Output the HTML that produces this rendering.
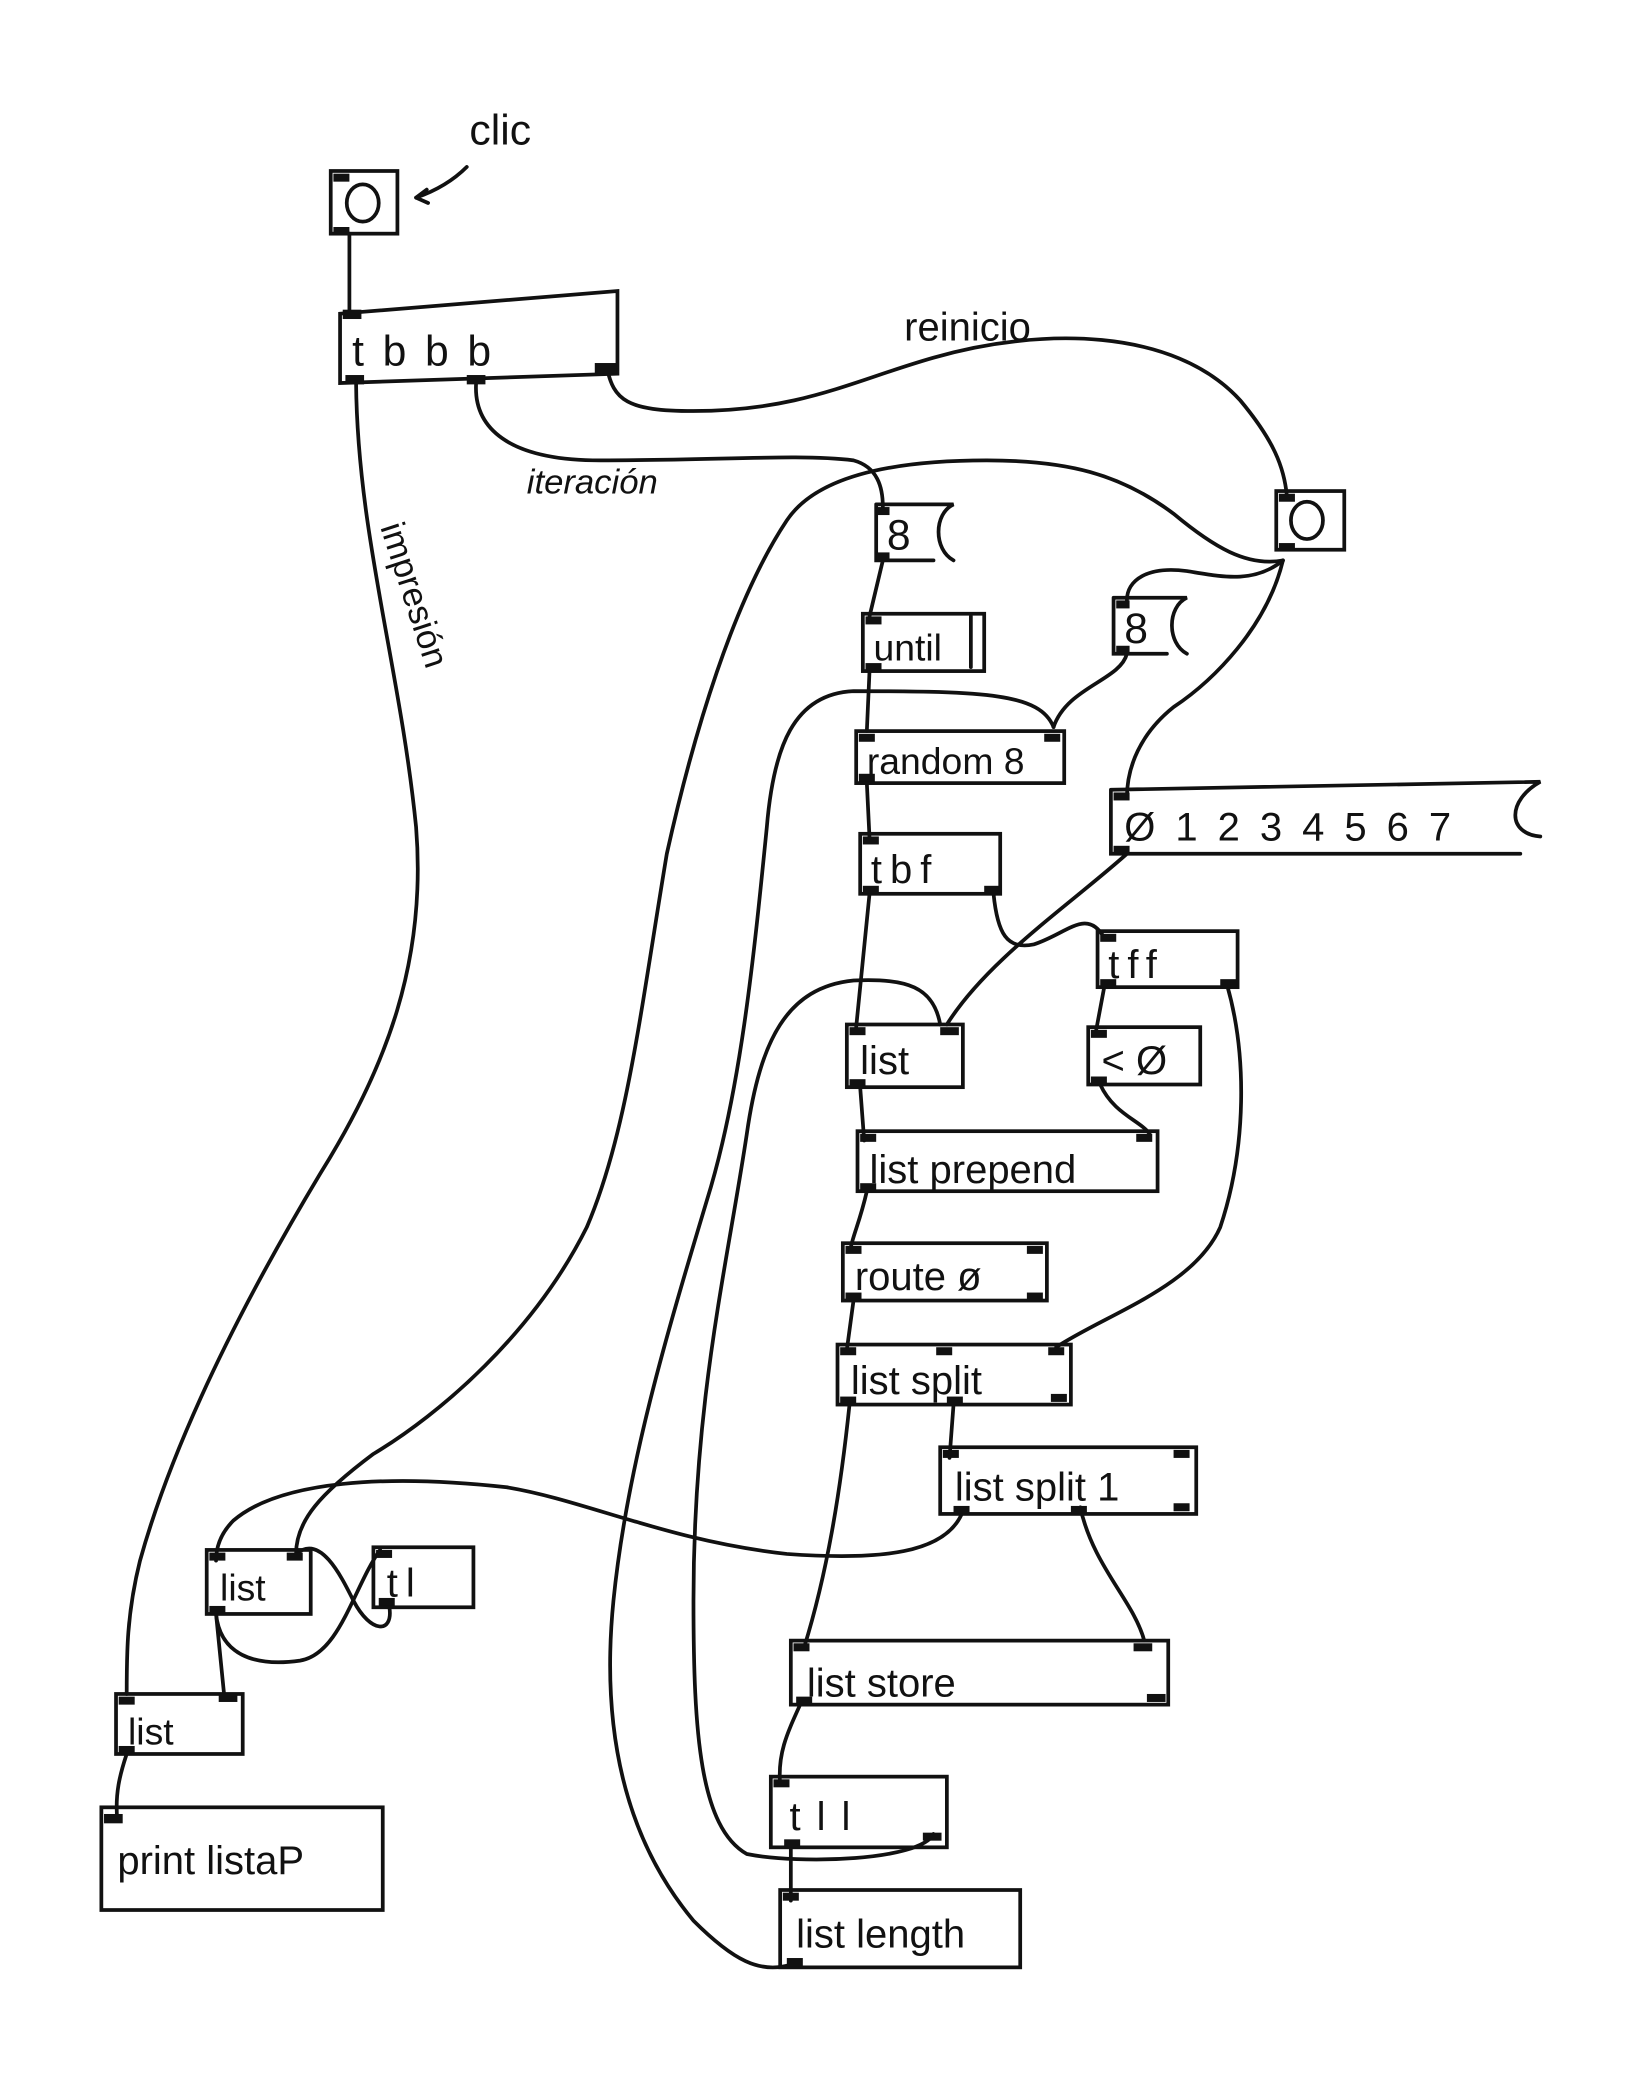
<!DOCTYPE html>
<html><head><style>
html,body{margin:0;padding:0;background:#fff;}
svg{display:block;}
text{font-family:"Liberation Sans",sans-serif;fill:#111;}
</style></head><body>
<svg width="1627" height="2089" viewBox="0 0 1220 1566" xmlns="http://www.w3.org/2000/svg">
<g fill="none" stroke="#111" stroke-width="2.8" stroke-linecap="round">
<!-- wires -->
<path d="M262 175 L262 235"/>
<path d="M350 125 Q335 140 312 148"/>
<path d="M312 148 l8 -6 M312 148 l9 4"/>
<path d="M455 275 C460 300 470 308 520 308 C600 308 640 285 700 268 C780 245 880 245 930 300 C955 330 963 350 965 372"/>
<path d="M357 287 C355 320 380 345 450 345 C540 345 600 340 640 345 C658 350 662 365 662 380"/>
<path d="M962 420 C935 425 910 410 880 385 C840 355 800 345 740 345 C660 345 610 360 590 390 C550 450 520 550 500 640 C480 760 470 850 440 920 C400 1000 330 1060 280 1090 C240 1120 222 1140 222 1165"/>
<path d="M962 420 C950 470 910 510 880 530 C855 550 845 575 845 598"/>
<path d="M962 420 C940 438 915 432 890 428 C860 424 845 435 845 450"/>
<path d="M845 490 C840 510 800 515 790 545"/>
<path d="M662 420 L652 462"/>
<path d="M652 503 L650 548"/>
<path d="M790 545 C780 520 740 518 640 518 C595 520 580 560 575 620 C565 720 555 820 530 900 C500 1000 470 1100 460 1200 C450 1300 470 1380 520 1440 C550 1470 570 1480 593 1473"/>
<path d="M650 587 L652 628"/>
<path d="M652 670 L642 770"/>
<path d="M745 670 C748 700 755 712 775 708 C800 700 815 680 828 703"/>
<path d="M845 640 C800 680 740 720 710 768"/>
<path d="M705 768 C700 740 680 733 640 735 C590 740 570 780 560 850 C545 950 520 1050 520 1200 C520 1300 525 1370 560 1390 C600 1398 690 1395 700 1375"/>
<path d="M828 740 L822 772"/>
<path d="M920 738 C935 790 935 860 915 920 C895 965 830 985 792 1010"/>
<path d="M645 815 L648 855"/>
<path d="M825 813 C835 835 855 840 862 850"/>
<path d="M650 893 C645 915 640 925 638 935"/>
<path d="M640 975 L635 1012"/>
<path d="M715 1053 L712 1093"/>
<path d="M722 1133 C710 1165 660 1170 590 1165 C500 1155 440 1125 380 1115 C290 1105 210 1110 175 1140 C165 1150 162 1160 162 1170"/>
<path d="M810 1130 C820 1175 850 1200 858 1230"/>
<path d="M637 1053 C630 1120 620 1180 603 1235"/>
<path d="M600 1278 C590 1300 583 1315 585 1338"/>
<path d="M593 1383 L593 1425"/>
<path d="M162 1210 L168 1270"/>
<path d="M162 1210 C165 1240 190 1250 225 1245 C255 1240 265 1190 285 1162"/>
<path d="M222 1165 C240 1150 255 1180 265 1200 C278 1225 295 1225 292 1205"/>
<path d="M267 287 C268 400 300 500 312 620 C320 720 290 800 240 880 C180 980 130 1080 105 1170 C95 1210 95 1240 95 1270"/>
<path d="M95 1315 C90 1330 86 1345 88 1365"/>
<!-- boxes -->
<rect x="248" y="128" width="50" height="47"/>
<ellipse cx="272" cy="152" rx="12" ry="14"/>
<path d="M255 235 L255 287 L463 280 L463 218 Z"/>
<rect x="957" y="368" width="51" height="44"/>
<ellipse cx="980" cy="390" rx="12" ry="14"/>
<path d="M657 378 L657 420 L700 420 M657 378 L715 378 C700 385 700 412 715 420"/>
<path d="M835 448 L835 490 L875 490 M835 448 L890 448 C875 455 875 482 890 490"/>
<rect x="647" y="460" width="91" height="43"/>
<path d="M728 462 L728 500"/>
<rect x="642" y="548" width="156" height="39"/>
<rect x="645" y="625" width="105" height="45"/>
<rect x="823" y="698" width="105" height="42"/>
<path d="M833 592 L833 640 L1140 640 M833 592 L1155 586 C1130 600 1130 625 1155 627"/>
<rect x="635" y="768" width="87" height="47"/>
<rect x="816" y="770" width="84" height="43"/>
<rect x="643" y="848" width="225" height="45"/>
<rect x="632" y="932" width="153" height="43"/>
<rect x="628" y="1008" width="175" height="45"/>
<rect x="705" y="1085" width="192" height="50"/>
<rect x="593" y="1230" width="283" height="48"/>
<rect x="578" y="1332" width="132" height="53"/>
<rect x="585" y="1417" width="180" height="58"/>
<rect x="155" y="1162" width="78" height="48"/>
<rect x="280" y="1160" width="75" height="45"/>
<rect x="87" y="1270" width="95" height="45"/>
<rect x="76" y="1355" width="211" height="77"/>
</g>
<g fill="#111">
<rect x="250" y="130" width="12" height="6"/><rect x="250" y="170" width="12" height="6"/>
<rect x="257" y="232" width="14" height="7"/><rect x="259" y="281" width="14" height="7"/><rect x="350" y="281" width="14" height="7"/><rect x="446" y="272" width="16" height="8"/>
<rect x="959" y="370" width="12" height="6"/><rect x="959" y="407" width="12" height="6"/>
<rect x="657" y="380" width="10" height="6"/><rect x="657" y="414" width="10" height="6"/>
<rect x="837" y="450" width="10" height="6"/><rect x="837" y="484" width="10" height="6"/>
<rect x="649" y="462" width="12" height="6"/><rect x="649" y="497" width="12" height="6"/>
<rect x="644" y="550" width="12" height="6"/><rect x="783" y="550" width="12" height="6"/><rect x="644" y="580" width="12" height="6"/>
<rect x="647" y="627" width="12" height="6"/><rect x="647" y="664" width="12" height="6"/><rect x="738" y="664" width="12" height="6"/>
<rect x="825" y="700" width="12" height="6"/><rect x="825" y="734" width="12" height="6"/><rect x="915" y="734" width="12" height="6"/>
<rect x="835" y="594" width="12" height="6"/><rect x="835" y="634" width="12" height="6"/>
<rect x="637" y="770" width="12" height="6"/><rect x="705" y="770" width="14" height="6"/><rect x="637" y="809" width="12" height="6"/>
<rect x="818" y="772" width="12" height="6"/><rect x="818" y="807" width="12" height="6"/>
<rect x="645" y="850" width="12" height="6"/><rect x="852" y="850" width="12" height="6"/><rect x="645" y="887" width="12" height="6"/>
<rect x="634" y="934" width="12" height="6"/><rect x="770" y="934" width="12" height="6"/><rect x="634" y="969" width="12" height="6"/><rect x="770" y="969" width="12" height="6"/>
<rect x="630" y="1010" width="12" height="6"/><rect x="702" y="1010" width="12" height="6"/><rect x="786" y="1010" width="12" height="6"/>
<rect x="630" y="1047" width="12" height="6"/><rect x="710" y="1047" width="12" height="6"/><rect x="788" y="1045" width="12" height="6"/>
<rect x="707" y="1087" width="12" height="6"/><rect x="880" y="1087" width="12" height="6"/><rect x="715" y="1129" width="12" height="6"/><rect x="803" y="1129" width="12" height="6"/><rect x="880" y="1127" width="12" height="6"/>
<rect x="595" y="1232" width="12" height="6"/><rect x="850" y="1232" width="14" height="6"/><rect x="597" y="1272" width="12" height="6"/><rect x="860" y="1270" width="14" height="6"/>
<rect x="580" y="1334" width="12" height="6"/><rect x="588" y="1379" width="12" height="6"/><rect x="692" y="1374" width="14" height="6"/>
<rect x="587" y="1419" width="12" height="6"/><rect x="590" y="1468" width="12" height="6"/>
<rect x="157" y="1164" width="12" height="6"/><rect x="215" y="1164" width="12" height="6"/><rect x="157" y="1204" width="12" height="6"/>
<rect x="282" y="1162" width="12" height="6"/><rect x="284" y="1198" width="12" height="6"/>
<rect x="89" y="1272" width="12" height="6"/><rect x="164" y="1270" width="14" height="6"/><rect x="89" y="1309" width="12" height="6"/>
<rect x="78" y="1360" width="14" height="7"/>
</g>
<g font-size="30">
<text x="352" y="108" font-size="32">clic</text>
<text x="264" y="274" font-size="32" letter-spacing="14">tbbb</text>
<text x="678" y="255" font-size="30">reinicio</text>
<text x="395" y="370" font-size="26" font-style="italic">iteración</text>
<text transform="translate(285 395) rotate(72)" font-size="26">impresión</text>
<text x="665" y="412" font-size="32">8</text>
<text x="843" y="482" font-size="32">8</text>
<text x="655" y="495" font-size="28">until</text>
<text x="650" y="580" font-size="28">random 8</text>
<text x="653" y="662" font-size="30" letter-spacing="6">tbf</text>
<text x="843" y="630" font-size="30" letter-spacing="15">Ø1234567</text>
<text x="831" y="733" font-size="30" letter-spacing="6">tff</text>
<text x="645" y="805" font-size="30">list</text>
<text x="826" y="805" font-size="30">&lt; Ø</text>
<text x="652" y="887" font-size="30">list  prepend</text>
<text x="641" y="967" font-size="30">route  ø</text>
<text x="638" y="1045" font-size="30">list  split</text>
<text x="716" y="1125" font-size="30">list split  1</text>
<text x="605" y="1272" font-size="30">list   store</text>
<text x="592" y="1372" font-size="30" letter-spacing="12">tll</text>
<text x="597" y="1460" font-size="30">list  length</text>
<text x="165" y="1200" font-size="28">list</text>
<text x="290" y="1197" font-size="30" letter-spacing="6">tl</text>
<text x="96" y="1308" font-size="28">list</text>
<text x="88" y="1405" font-size="30">print  listaP</text>
</g>
</svg>
</body></html>
